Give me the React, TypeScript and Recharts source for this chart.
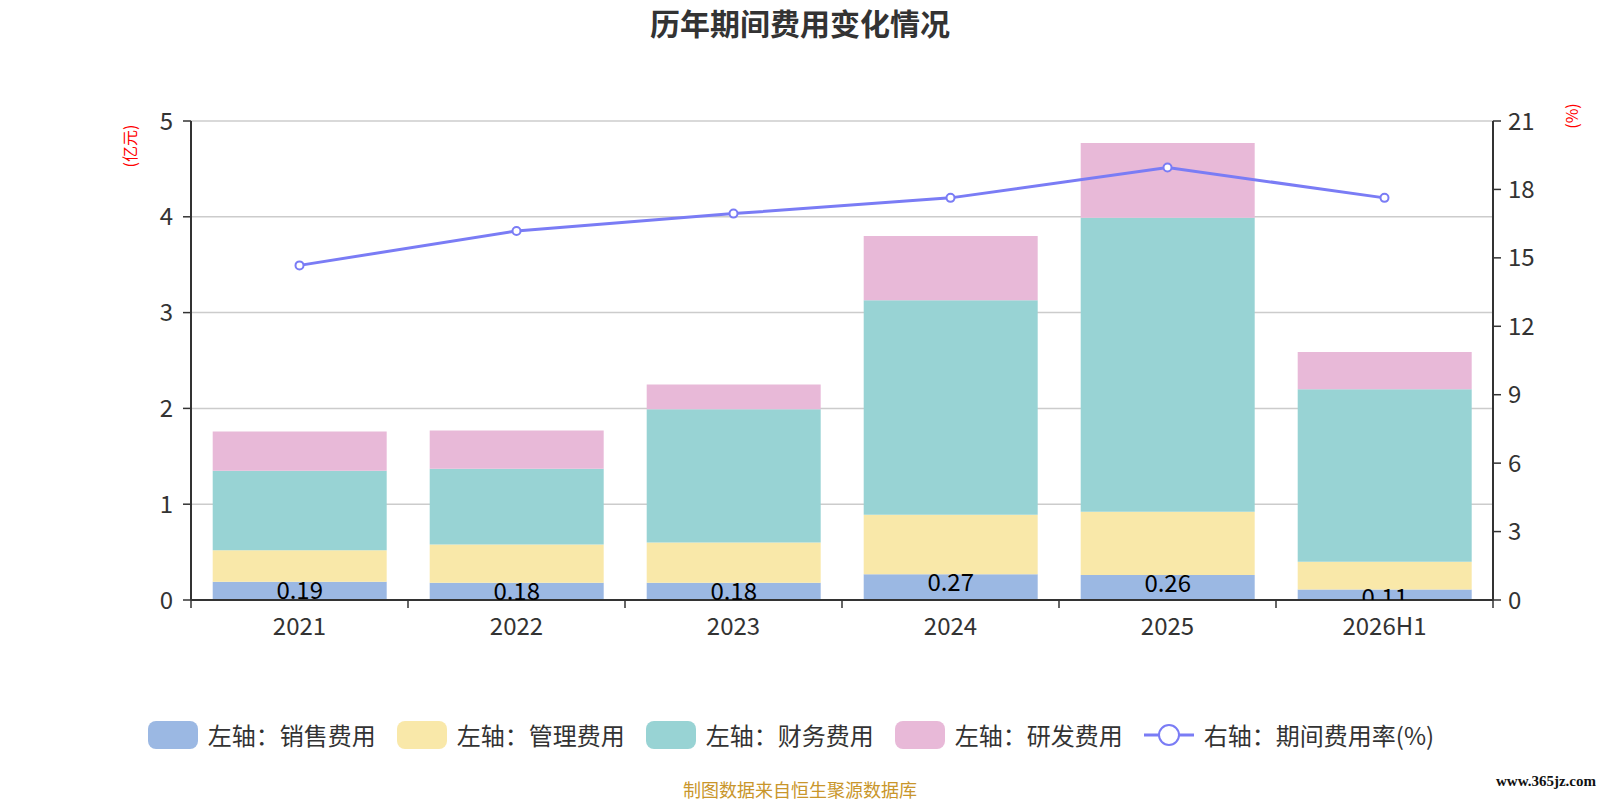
import React from "react"
import {
  ComposedChart, Bar, Line, XAxis, YAxis, CartesianGrid, LabelList,
} from "recharts"

const years = ["2021", "2022", "2023", "2024", "2025", "2026H1"]
const sales = [0.19, 0.18, 0.18, 0.27, 0.26, 0.11]
const admin = [0.33, 0.40, 0.42, 0.62, 0.66, 0.29]
const finance = [0.83, 0.79, 1.39, 2.24, 3.07, 1.80]
const rnd = [0.41, 0.40, 0.26, 0.67, 0.78, 0.39]
const rate = [14.67, 16.18, 16.94, 17.63, 18.96, 17.63]

const leftTicks = [0, 1, 2, 3, 4, 5]
const rightTicks = [0, 3, 6, 9, 12, 15, 18, 21]

const FONT = "'Noto Sans CJK SC', 'Noto Sans', sans-serif"

const barSeries = [
  { key: "sales", name: "左轴：销售费用", color: "#9bb8e3" },
  { key: "admin", name: "左轴：管理费用", color: "#f9e8a9" },
  { key: "finance", name: "左轴：财务费用", color: "#98d3d4" },
  { key: "rnd", name: "左轴：研发费用", color: "#e8b9d8" },
]
const lineName = "右轴：期间费用率(%)"
const lineColor = "#7a7cf5"

const data = years.map((y, i) => ({
  name: y,
  sales: sales[i],
  admin: admin[i],
  finance: finance[i],
  rnd: rnd[i],
  rate: rate[i],
}))

const W = 1600
const H = 800
const margin = { top: 121, left: 131, right: 47, bottom: 170 }
const axisW = 60
const plotW = W - margin.left - margin.right - axisW * 2
const band = plotW / years.length

// category ticks sit on the band edges, like the source chart
function XTick(props: any) {
  const { x, y, payload, index } = props
  const left = x - band / 2
  return (
    <g>
      <line x1={left} x2={left} y1={y} y2={y + 8} stroke="#333" strokeWidth={1.5} />
      {index === years.length - 1 && (
        <line x1={x + band / 2} x2={x + band / 2} y1={y} y2={y + 8} stroke="#333" strokeWidth={1.5} />
      )}
      <text x={x} y={y + 24} textAnchor="middle" dominantBaseline="central"
        fill="#333" fontSize={24} fontFamily={FONT}>
        {payload.value}
      </text>
    </g>
  )
}

// value label sits at the top of the bottom segment and is clipped at the axis
function SalesLabel(props: any) {
  const { x, y, width, height, value, index } = props
  const id = `clip-sales-${index}`
  return (
    <g>
      <defs>
        <clipPath id={id}>
          <rect x={x} y={y - 40} width={width} height={height + 40} />
        </clipPath>
      </defs>
      <text x={x + width / 2} y={y - 1} dy="0.74em" textAnchor="middle"
        fill="#000" fontSize={24} fontFamily={FONT} clipPath={`url(#${id})`}>
        {value}
      </text>
    </g>
  )
}

function LegendRow() {
  return (
    <div style={{
      position: "absolute", left: 0, top: 717, width: W, display: "flex",
      justifyContent: "center", alignItems: "center", fontFamily: FONT,
      fontSize: 24, color: "#333", paddingRight: 18, boxSizing: "border-box",
    }}>
      {barSeries.map((s) => (
        <div key={s.key} style={{ display: "flex", alignItems: "center", marginRight: 21 }}>
          <div style={{ width: 50, height: 28, borderRadius: 8, background: s.color, marginRight: 10 }} />
          <span style={{ whiteSpace: "nowrap" }}>{s.name}</span>
        </div>
      ))}
      <div style={{ display: "flex", alignItems: "center" }}>
        <svg width={50} height={28} style={{ marginRight: 10 }}>
          <line x1={0} x2={50} y1={14} y2={14} stroke={lineColor} strokeWidth={3} />
          <circle cx={25} cy={14} r={10} fill="#fff" stroke={lineColor} strokeWidth={2} />
        </svg>
        <span style={{ whiteSpace: "nowrap" }}>{lineName}</span>
      </div>
    </div>
  )
}

export default function App() {
  return (
    <div style={{ position: "absolute", left: 0, top: 0, width: W, height: H, background: "#fff", fontFamily: FONT }}>
      <div style={{
        position: "absolute", left: 0, top: 0, width: W, textAlign: "center",
        fontSize: 30, fontWeight: 700, color: "#333",
      }}>
        历年期间费用变化情况
      </div>

      <div style={{
        position: "absolute", left: 129, top: 146, transform: "translate(-50%, -50%) rotate(-90deg)",
        color: "#ff0000", fontSize: 16, whiteSpace: "nowrap",
      }}>
        (亿元)
      </div>
      <div style={{
        position: "absolute", left: 1571, top: 116, transform: "translate(-50%, -50%) rotate(-90deg)",
        color: "#ff0000", fontSize: 16, whiteSpace: "nowrap",
      }}>
        (%)
      </div>

      <ComposedChart width={W} height={H} data={data} margin={margin} barCategoryGap="10%">
        <CartesianGrid yAxisId="left" vertical={false} stroke="#ccc" strokeWidth={1.5} />
        <XAxis dataKey="name" height={30} tick={<XTick />} tickLine={false} tickSize={0} tickMargin={0}
          axisLine={{ stroke: "#333", strokeWidth: 2 }} interval={0} />
        <YAxis yAxisId="left" width={axisW} domain={[0, 5]} ticks={leftTicks} interval={0}
          axisLine={{ stroke: "#333", strokeWidth: 2 }} tickLine={{ stroke: "#333", strokeWidth: 1.5 }}
          tickSize={8} tickMargin={10} tick={{ fontSize: 24, fill: "#333", fontFamily: FONT }} />
        <YAxis yAxisId="right" orientation="right" width={axisW} domain={[0, 21]} ticks={rightTicks} interval={0}
          axisLine={{ stroke: "#333", strokeWidth: 2 }} tickLine={{ stroke: "#333", strokeWidth: 1.5 }}
          tickSize={8} tickMargin={7} tick={{ fontSize: 24, fill: "#333", fontFamily: FONT }} />
        {barSeries.map((s) => (
          <Bar key={s.key} yAxisId="left" dataKey={s.key} name={s.name} stackId="cost"
            fill={s.color} isAnimationActive={false}>
            {s.key === "sales" && <LabelList dataKey="sales" content={<SalesLabel />} />}
          </Bar>
        ))}
        <Line yAxisId="right" dataKey="rate" name={lineName} stroke={lineColor} strokeWidth={3}
          dot={{ r: 4, fill: "#fff", stroke: lineColor, strokeWidth: 2 }} isAnimationActive={false} />
      </ComposedChart>

      <LegendRow />

      <div style={{
        position: "absolute", left: 0, top: 776, width: W, textAlign: "center",
        fontSize: 18, color: "#c9962b",
      }}>
        制图数据来自恒生聚源数据库
      </div>
      <div style={{
        position: "absolute", right: 4, top: 773, fontSize: 15, color: "#111",
        fontFamily: "'Liberation Serif', serif", fontWeight: 700,
      }}>
        www.365jz.com
      </div>
    </div>
  )
}
